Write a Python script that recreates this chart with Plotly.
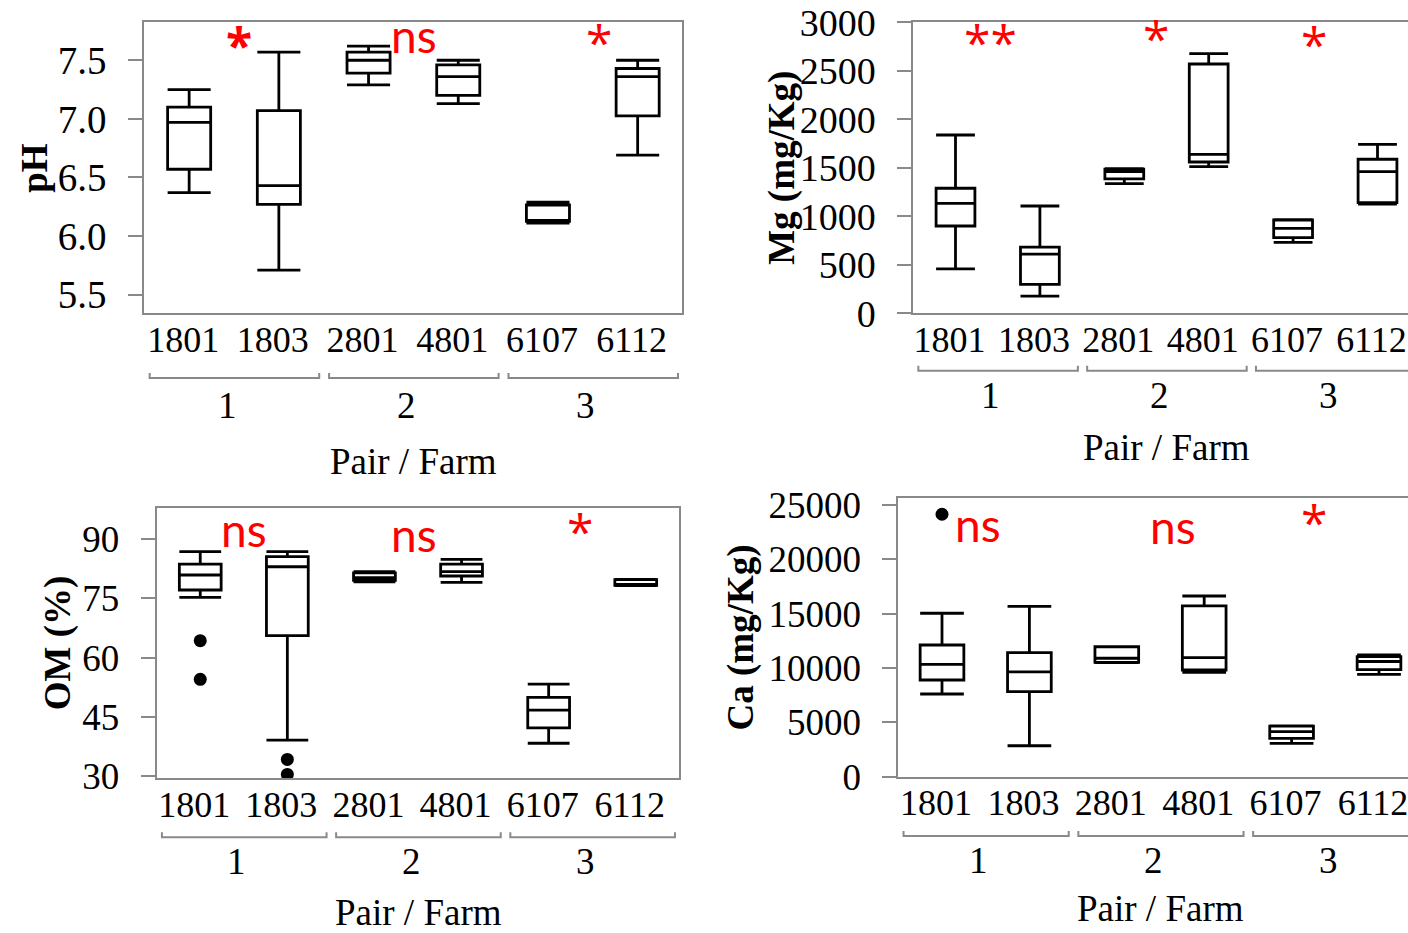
import plotly.graph_objects as go

W, H = 1408, 933

farms = ["1801", "1803", "2801", "4801", "6107", "6112"]
pairs = ["1", "2", "3"]

# pH
ph_lo = [6.37, 5.71, 7.29, 7.13, 6.11, 6.69]
ph_q1 = [6.57, 6.27, 7.39, 7.20, 6.125, 7.025]
ph_med = [6.97, 6.43, 7.50, 7.36, 6.13, 7.36]
ph_q3 = [7.10, 7.07, 7.57, 7.46, 6.265, 7.43]
ph_hi = [7.25, 7.57, 7.62, 7.50, 6.29, 7.50]
ph_sig = ["*", "ns", "*"]

# Mg (mg/Kg)
mg_lo = [457, 178, 1336, 1512, 732, 1125]
mg_q1 = [900, 299, 1385, 1560, 780, 1140]
mg_med = [1134, 611, 1460, 1639, 876, 1460]
mg_q3 = [1289, 683, 1485, 2570, 962, 1588]
mg_hi = [1838, 1106, 1490, 2677, 965, 1742]
mg_sig = ["**", "*", "*"]

# OM (%)
om_lo = [75.3, 39.1, 79.2, 79.1, 38.3, 78.25]
om_q1 = [77.15, 65.6, 79.6, 80.7, 42.2, 78.3]
om_med = [80.95, 83.05, 80.3, 81.8, 46.7, 78.6]
om_q3 = [83.7, 85.6, 81.5, 83.7, 49.95, 79.8]
om_hi = [86.9, 86.9, 81.8, 84.9, 53.3, 79.85]
om_out_farm = ["1801", "1801", "1803", "1803"]
om_out_val = [64.3, 54.5, 34.2, 30.4]
om_sig = ["ns", "ns", "*"]

# Ca (mg/Kg)
ca_lo = [7610, 2850, 10500, 9610, 3070, 9420]
ca_q1 = [8900, 7820, 10520, 9820, 3530, 9850]
ca_med = [10340, 9640, 10900, 10950, 4140, 10600]
ca_q3 = [12120, 11410, 11960, 15710, 4660, 11050]
ca_hi = [15040, 15680, 11970, 16630, 4670, 11200]
ca_out_farm = ["1801"]
ca_out_val = [24150]
ca_sig = ["ns", "ns", "*"]

GRAY = "#898989"
SERIF = "Liberation Serif"
NS_FONT = "Lato"
STAR_FONT = "Open Sans"


def px(x):
    return x / W


def py(y):
    return 1 - y / H


panels = [
    dict(title="pH", lo=ph_lo, q1=ph_q1, med=ph_med, q3=ph_q3, hi=ph_hi,
         out_farm=[], out_val=[], sig=ph_sig, bold_first=True,
         left=144.3, right=682.3, top=22.3, bottom=313.3, step=89.7,
         yrange=[5.341, 7.824], ytick=[5.5, 6.0, 6.5, 7.0, 7.5], yfmt=".1f",
         closed=True, ytfont=39, title_x=35,
         sig_pos=[(239, 45), (414, 35.5), (599.3, 41.5)],
         bracket_y=378, group_y=405, xtitle_y=461, width=0.48),
    dict(title="Mg (mg/Kg)", lo=mg_lo, q1=mg_q1, med=mg_med, q3=mg_q3, hi=mg_hi,
         out_farm=[], out_val=[], sig=mg_sig, bold_first=False,
         left=913.3, right=None, top=22.3, bottom=313.3, step=84.4,
         yrange=[0, 3000], ytick=[0, 500, 1000, 1500, 2000, 2500, 3000], yfmt="d",
         closed=False, ytfont=38, title_x=782,
         sig_pos=[(990.5, 42), (1156, 38), (1314.3, 43)],
         bracket_y=370.7, group_y=395, xtitle_y=447, width=0.46),
    dict(title="OM (%)", lo=om_lo, q1=om_q1, med=om_med, q3=om_q3, hi=om_hi,
         out_farm=om_out_farm, out_val=om_out_val, sig=om_sig, bold_first=False,
         left=156.7, right=679.3, top=508.3, bottom=778.3, step=87.1,
         yrange=[29.42, 97.86], ytick=[30, 45, 60, 75, 90], yfmt="d",
         closed=True, ytfont=37, title_x=58,
         sig_pos=[(244, 529), (414, 534), (580, 530)],
         bracket_y=837.3, group_y=861.7, xtitle_y=912, width=0.48),
    dict(title="Ca (mg/Kg)", lo=ca_lo, q1=ca_q1, med=ca_med, q3=ca_q3, hi=ca_hi,
         out_farm=ca_out_farm, out_val=ca_out_val, sig=ca_sig, bold_first=False,
         left=898.3, right=None, top=498.3, bottom=776.7, step=87.4,
         yrange=[0, 25618], ytick=[0, 5000, 10000, 15000, 20000, 25000], yfmt="d",
         closed=False, ytfont=37, title_x=740,
         sig_pos=[(977.5, 524), (1172.5, 526), (1314.3, 521)],
         bracket_y=836, group_y=860, xtitle_y=908, width=0.5),
]

fig = go.Figure()
layout = dict(width=W, height=H, margin=dict(l=0, r=0, t=0, b=0, autoexpand=False),
              paper_bgcolor="white", plot_bgcolor="white", showlegend=False)
annotations = []
shapes = []

for i, p in enumerate(panels, start=1):
    xa = "x" if i == 1 else f"x{i}"
    ya = "y" if i == 1 else f"y{i}"
    xkey = "xaxis" if i == 1 else f"xaxis{i}"
    ykey = "yaxis" if i == 1 else f"yaxis{i}"
    right_px = p["right"] if p["right"] is not None else W
    full_right = p["left"] + 6 * p["step"]
    xmax = -0.5 + (right_px - p["left"]) / p["step"]
    pos = list(range(len(farms)))

    fig.add_trace(go.Box(
        x=pos, q1=p["q1"], median=p["med"], q3=p["q3"],
        lowerfence=p["lo"], upperfence=p["hi"],
        width=p["width"], whiskerwidth=1,
        line=dict(color="black", width=2.8), fillcolor="rgba(0,0,0,0)",
        boxpoints=False, xaxis=xa, yaxis=ya, hoverinfo="skip",
    ))
    if p["out_val"]:
        fig.add_trace(go.Scatter(
            x=[farms.index(f) for f in p["out_farm"]], y=p["out_val"],
            mode="markers", marker=dict(color="black", size=13),
            xaxis=xa, yaxis=ya, hoverinfo="skip",
        ))

    layout[xkey] = dict(
        domain=[px(p["left"]), px(right_px)], range=[-0.5, xmax],
        anchor=ya, tickmode="array", tickvals=pos, ticktext=farms,
        showgrid=False, zeroline=False, showline=True, linecolor=GRAY,
        linewidth=2, mirror=True, ticks="", automargin=False,
        tickfont=dict(family=SERIF, size=36, color="black"),
        ticklabelshift=-6, ticklabelstandoff=-7, ticklabeloverflow="allow",
    )
    layout[ykey] = dict(
        domain=[py(p["bottom"]), py(p["top"])], range=p["yrange"],
        anchor=xa, tickmode="array", tickvals=p["ytick"],
        ticktext=[format(v, p["yfmt"]) for v in p["ytick"]],
        showgrid=False, zeroline=False, showline=True, linecolor=GRAY,
        linewidth=2, mirror=p["closed"], ticks="outside", ticklen=14,
        tickwidth=2, tickcolor=GRAY, automargin=False,
        tickfont=dict(family=SERIF, size=p["ytfont"], color="black"),
        ticklabelstandoff=14,
    )

    # y-axis title
    annotations.append(dict(
        text=f"<b>{p['title']}</b>", textangle=-90, xref="paper", yref="paper",
        x=px(p["title_x"]), y=py((p["top"] + p["bottom"]) / 2),
        xanchor="center", yanchor="middle", showarrow=False,
        font=dict(family=SERIF, size=37, color="black"),
    ))

    # pair brackets and pair numbers
    for g, name in enumerate(pairs):
        x0, x1 = 2 * g - 0.44, 2 * g + 1.45
        yb = py(p["bracket_y"])
        tick = 5 / H
        shapes.append(dict(
            type="path", xref=xa, yref="paper",
            path=f"M {x0},{yb + tick} L {x0},{yb} L {x1},{yb} L {x1},{yb + tick}",
            line=dict(color=GRAY, width=2),
        ))
        annotations.append(dict(
            text=name, xref=xa, yref="paper", x=2 * g + 0.5, xshift=-7,
            y=py(p["group_y"]), xanchor="center", yanchor="middle",
            showarrow=False, font=dict(family=SERIF, size=37, color="black"),
        ))

    # x-axis title centred on the full category span
    annotations.append(dict(
        text="Pair / Farm", xref="paper", yref="paper",
        x=px((p["left"] + full_right) / 2),
        y=py(p["xtitle_y"]), xanchor="center", yanchor="middle",
        showarrow=False, font=dict(family=SERIF, size=37, color="black"),
    ))

    # significance marks
    for k, (s, (sx, sy)) in enumerate(zip(p["sig"], p["sig_pos"])):
        is_ns = s == "ns"
        txt = s
        if k == 0 and p["bold_first"]:
            txt = f"<b>{s}</b>"
        annotations.append(dict(
            text=txt, xref="paper", yref="paper", x=px(sx), y=py(sy),
            xanchor="center", yanchor="middle", showarrow=False,
            font=dict(family=NS_FONT if is_ns else STAR_FONT,
                      size=46 if is_ns else 48, color="#ff0000"),
        ))

layout["annotations"] = annotations
layout["shapes"] = shapes
fig.update_layout(**layout)
fig.write_html("out.html")
